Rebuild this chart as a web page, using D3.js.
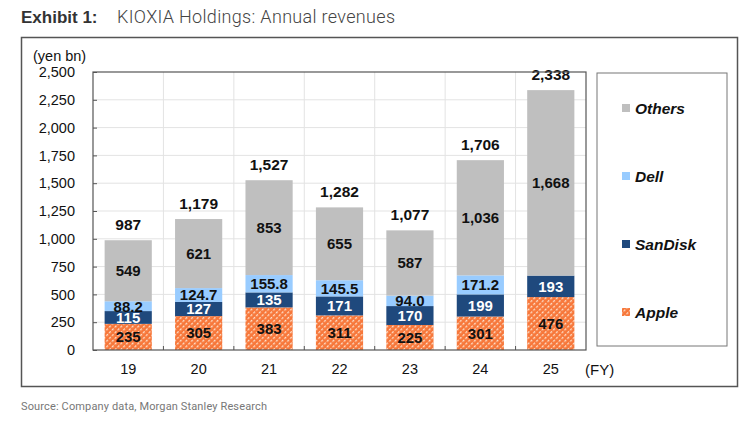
<!DOCTYPE html>
<html>
<head>
<meta charset="utf-8">
<script src="https://cdn.jsdelivr.net/npm/d3@7"></script>
<style>
  body { margin: 0; background: #fff; }
  svg { font-family: "Liberation Sans", Arial, sans-serif; }
</style>
</head>
<body>
<svg id="chart" width="750" height="421"></svg>
<script>
// KIOXIA annual revenues, stacked by customer

const years = ["19", "20", "21", "22", "23", "24", "25"];
const apple = [235, 305, 383, 311, 225, 301, 476];
const sandisk = [115, 127, 135, 171, 170, 199, 193];
const dell = [88.2, 124.7, 155.8, 145.5, 94.0, 171.2, 0];
const others = [549, 621, 853, 655, 587, 1036, 1668];
const totals = [987, 1179, 1527, 1282, 1077, 1706, 2338];
const yTicks = [0, 250, 500, 750, 1000, 1250, 1500, 1750, 2000, 2250, 2500];

const seriesKeys = ["Apple", "SanDisk", "Dell", "Others"];
const seriesLabels = [
	apple.map(String),
	sandisk.map(String),
	dell.map(v => v.toFixed(1)),
	others.map(d3.format(","))
];

const svg = d3.select("#chart");

// hatch pattern for Apple
const defs = svg.append("defs");
const pat = defs.append("pattern")
	.attr("id", "hatch")
	.attr("patternUnits", "userSpaceOnUse")
	.attr("width", 4)
	.attr("height", 4)
	.attr("patternTransform", "rotate(45)");
pat.append("rect").attr("width", 4).attr("height", 4).attr("fill", "#f7773a");
pat.append("rect").attr("x", 0).attr("y", 0).attr("width", 1.3).attr("height", 2.4).attr("fill", "#fde0cc");

const colors = {
	Apple: "url(#hatch)",
	SanDisk: "#1f497d",
	Dell: "#99ccff",
	Others: "#bfbfbf"
};
const labelColors = { Apple: "#111", SanDisk: "#fff", Dell: "#111", Others: "#111" };

// title
svg.append("text").attr("x", 21).attr("y", 23).attr("font-size", 17).attr("font-weight", "bold").attr("fill", "#333")
	.text("Exhibit 1:");
svg.append("text").attr("x", 117).attr("y", 23).attr("font-size", 18)
	.attr("font-family", "Roboto, sans-serif").attr("font-weight", 300).attr("fill", "#444")
	.attr("textLength", 278).attr("lengthAdjust", "spacing")
	.text("KIOXIA Holdings: Annual revenues");

// outer frame
svg.append("rect")
	.attr("x", 21.5).attr("y", 37.5).attr("width", 716).attr("height", 349)
	.attr("fill", "none").attr("stroke", "#555").attr("stroke-width", 1.5);

const plot = { left: 93, right: 586, top: 72, bottom: 350 };

const x = d3.scaleBand().domain(years).range([plot.left, plot.right]).paddingInner(0.33).paddingOuter(0.165);
const xb = d3.scaleBand().domain(years).range([plot.left, plot.right]);
const y = d3.scaleLinear().domain([0, 2500]).range([plot.bottom, plot.top]);

// gridlines
const g = svg.append("g");
g.selectAll(".hgrid").data(yTicks.slice(1, -1)).enter().append("line")
	.attr("x1", plot.left).attr("x2", plot.right)
	.attr("y1", d => y(d)).attr("y2", d => y(d))
	.attr("stroke", "#e3e3e3").attr("stroke-width", 1);
g.selectAll(".vgrid").data(years.slice(1)).enter().append("line")
	.attr("x1", d => xb(d)).attr("x2", d => xb(d))
	.attr("y1", plot.top).attr("y2", plot.bottom)
	.attr("stroke", "#e3e3e3").attr("stroke-width", 1);

// stacked bars
const table = years.map((yr, i) => ({
	year: yr, Apple: apple[i], SanDisk: sandisk[i], Dell: dell[i], Others: others[i]
}));
const stacked = d3.stack().keys(seriesKeys)(table);

const layers = svg.append("g").selectAll("g").data(stacked).enter().append("g")
	.attr("fill", d => colors[d.key]);
layers.selectAll("rect").data(d => d.filter(p => p[1] > p[0])).enter().append("rect")
	.attr("x", d => x(d.data.year))
	.attr("width", x.bandwidth())
	.attr("y", d => y(d[1]))
	.attr("height", d => y(d[0]) - y(d[1]));

// segment labels
stacked.forEach((layer, si) => {
	svg.append("g").selectAll("text").data(layer.filter(p => p[1] > p[0])).enter().append("text")
		.attr("x", d => x(d.data.year) + x.bandwidth() / 2)
		.attr("y", d => (y(d[0]) + y(d[1])) / 2)
		.attr("dy", "0.36em")
		.attr("text-anchor", "middle")
		.attr("font-size", 15)
		.attr("font-weight", "bold")
		.attr("fill", labelColors[layer.key])
		.text(d => seriesLabels[si][years.indexOf(d.data.year)]);
});

// totals
svg.append("g").selectAll("text").data(years).enter().append("text")
	.attr("x", d => x(d) + x.bandwidth() / 2)
	.attr("y", (d, i) => y(totals[i]) - 10)
	.attr("text-anchor", "middle")
	.attr("font-size", 15.5)
	.attr("font-weight", "bold")
	.attr("fill", "#111")
	.text((d, i) => d3.format(",")(totals[i]));

// plot frame
svg.append("rect")
	.attr("x", plot.left).attr("y", plot.top)
	.attr("width", plot.right - plot.left).attr("height", plot.bottom - plot.top)
	.attr("fill", "none").attr("stroke", "#555").attr("stroke-width", 1.2);

// y axis
const yAxis = svg.append("g").attr("transform", `translate(${plot.left},0)`)
	.call(d3.axisLeft(y).tickValues(yTicks).tickFormat(d3.format(",")).tickSize(-4).tickPadding(18));
yAxis.select(".domain").remove();
yAxis.selectAll("line").attr("stroke", "#555");
yAxis.selectAll("text").attr("font-size", 14.5).attr("fill", "#111").attr("font-family", "Liberation Sans, Arial, sans-serif");

// x axis
const xAxis = svg.append("g").attr("transform", `translate(0,${plot.bottom})`)
	.call(d3.axisBottom(xb).tickSize(0).tickPadding(14));
xAxis.select(".domain").remove();
xAxis.selectAll("text").attr("font-size", 14.5).attr("fill", "#111").attr("font-family", "Liberation Sans, Arial, sans-serif");
svg.append("g").selectAll("line").data(years.slice(1)).enter().append("line")
	.attr("x1", d => xb(d)).attr("x2", d => xb(d))
	.attr("y1", plot.bottom - 4).attr("y2", plot.bottom)
	.attr("stroke", "#555");

svg.append("text").attr("x", 33).attr("y", 61).attr("font-size", 14.5).attr("fill", "#111").text("(yen bn)");
svg.append("text").attr("x", 585).attr("y", 375).attr("font-size", 15).attr("fill", "#111").text("(FY)");

// legend
svg.append("rect")
	.attr("x", 597).attr("y", 73).attr("width", 130).attr("height", 273)
	.attr("fill", "none").attr("stroke", "#777").attr("stroke-width", 1);
const legendOrder = ["Others", "Dell", "SanDisk", "Apple"];
const legendY = d3.scalePoint().domain(legendOrder).range([108, 312]);
const leg = svg.append("g").selectAll("g").data(legendOrder).enter().append("g")
	.attr("transform", d => `translate(622,${legendY(d)})`);
leg.append("rect").attr("x", 0).attr("y", -4).attr("width", 8).attr("height", 8)
	.attr("fill", d => colors[d]);
leg.append("text").attr("x", 13).attr("dy", "0.36em")
	.attr("font-size", 15.5).attr("font-weight", "bold").attr("font-style", "italic").attr("fill", "#111")
	.text(d => d);

// source
svg.append("text").attr("x", 21).attr("y", 410).attr("font-size", 11)
	.attr("font-family", "Roboto, sans-serif").attr("fill", "#777")
	.attr("textLength", 246).attr("lengthAdjust", "spacing")
	.text("Source: Company data, Morgan Stanley Research");
</script>
</body>
</html>
